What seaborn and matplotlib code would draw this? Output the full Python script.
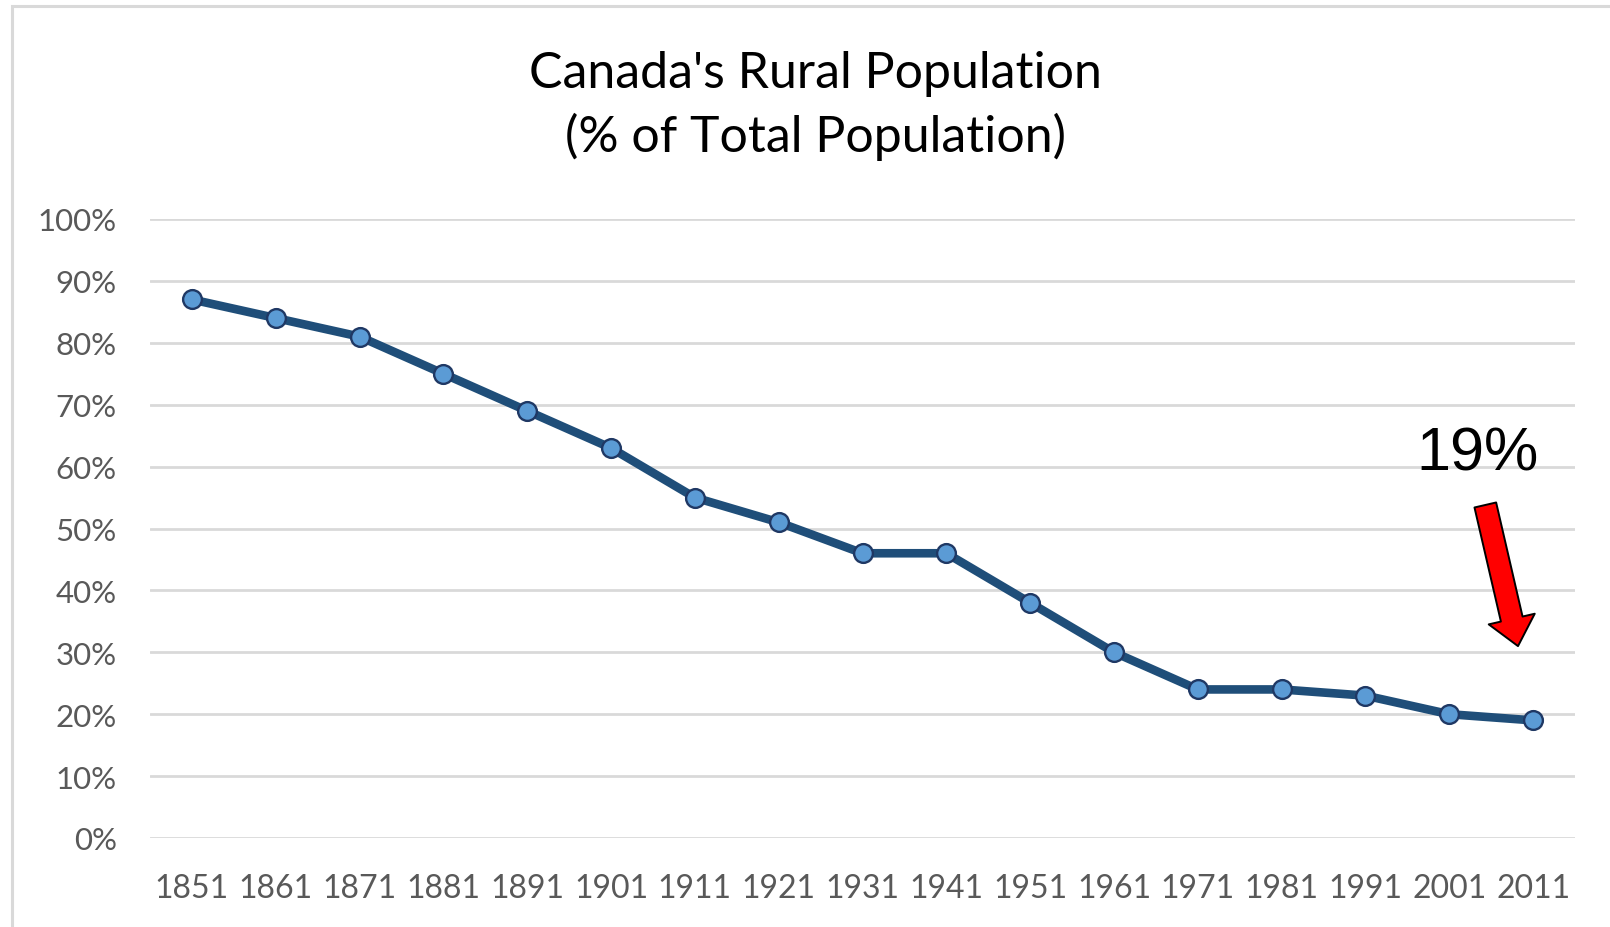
"""Canada's rural population share, 1851-2011."""
import matplotlib
matplotlib.use("Agg")
import matplotlib.pyplot as plt
from matplotlib.patches import Rectangle
from matplotlib.ticker import PercentFormatter
import seaborn as sns

years = ["1851", "1861", "1871", "1881", "1891", "1901", "1911", "1921", "1931",
         "1941", "1951", "1961", "1971", "1981", "1991", "2001", "2011"]
rural_pct = [87, 84, 81, 75, 69, 63, 55, 51, 46, 46, 38, 30, 24, 24, 23, 20, 19]
y_ticks = [0, 10, 20, 30, 40, 50, 60, 70, 80, 90, 100]
callout = "19%"

sns.set_theme(style="white")
plt.rcParams["font.family"] = ["Lato", "DejaVu Sans"]

W, H = 1610, 928
fig = plt.figure(figsize=(W / 100, H / 100), dpi=100)
ax = fig.add_axes([150 / W, 1 - 839 / H, (1575 - 150) / W, (839 - 220) / H])

sns.lineplot(x=years, y=rural_pct, ax=ax, color="#1F4E79", lw=6.2,
             marker="o", markersize=13.5, markerfacecolor="#5B9BD5",
             markeredgecolor="#1F3864", markeredgewidth=1.7, zorder=3)

ax.set_xlim(-0.5, len(years) - 0.5)
ax.set_ylim(0, 100)
ax.set_yticks(y_ticks)
ax.yaxis.set_major_formatter(PercentFormatter(xmax=100, decimals=0))
ax.grid(axis="y", color="#D9D9D9", lw=2)
ax.set_axisbelow(True)
for s in ax.spines.values():
    s.set_visible(False)
ax.tick_params(axis="y", length=0, pad=24, labelsize=22.5, labelcolor="#595959")
ax.tick_params(axis="x", length=0, pad=25, labelsize=23, labelcolor="#595959")
ax.set_xlabel(""); ax.set_ylabel("")

fig.text(815 / W, 1 - 106 / H, "Canada's Rural Population\n(% of Total Population)",
         ha="center", va="center", fontsize=36, color="black", linespacing=1.42)

# callout for the last census
ax.text(15.34, 62, callout, ha="center", va="center", fontsize=44,
        family=["Liberation Sans", "DejaVu Sans"], color="black")
ax.annotate("", xy=(15.82, 31.0), xytext=(15.43, 53.8),
            arrowprops=dict(arrowstyle="simple,head_length=1.0,head_width=1.7,tail_width=0.8",
                            mutation_scale=20, fc="red", ec="black", lw=1.4,
                            shrinkA=0, shrinkB=0))

fig.patches.append(Rectangle((11.5 / W, -0.05), 1.1, 1.05 - 6.5 / H,
                             transform=fig.transFigure, fill=False,
                             ec="#D9D9D9", lw=2.2))

fig.savefig("out.png", dpi=100)
